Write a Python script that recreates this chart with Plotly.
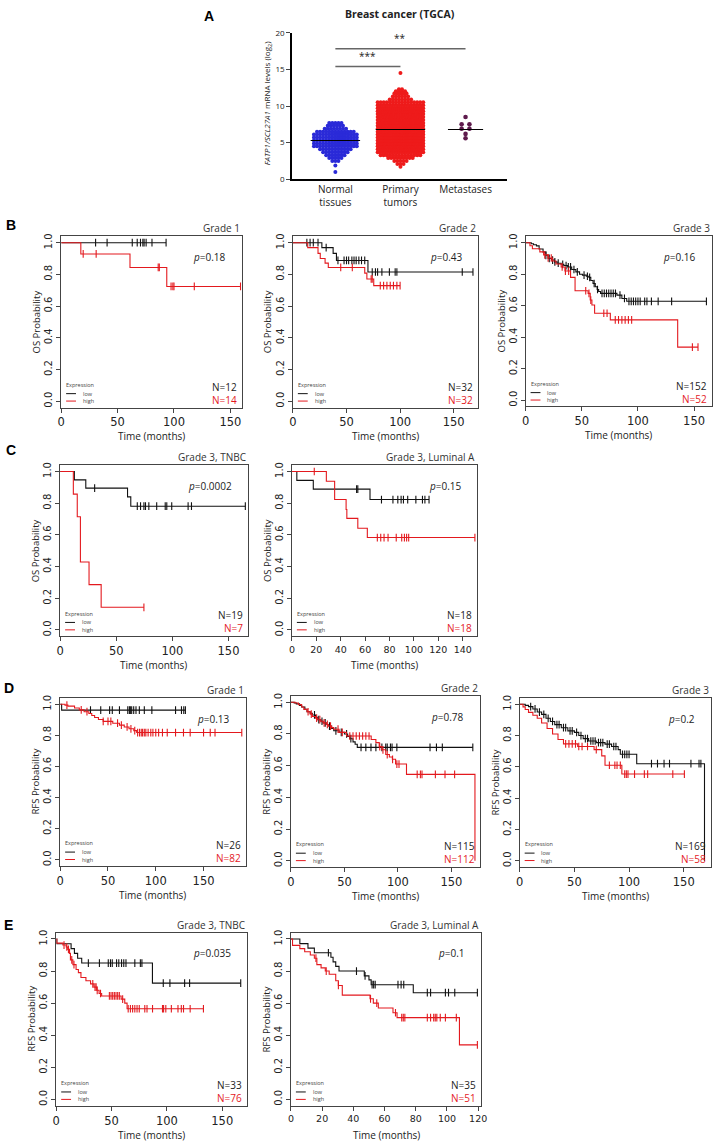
import numpy as np
import plotly.graph_objects as go

W, H = 721, 1147

# ---------------- panel A : FATP1 expression ----------------
groups = ["Normal<br>tissues", "Primary<br>tumors", "Metastases"]
normal_levels = [1.0, 1.9, 2.5, 2.9, 3.3, 3.7, 4.1, 4.5, 4.9, 5.3, 5.7, 6.1, 6.5, 6.9, 7.3, 7.7]
normal_counts = [1, 1, 3, 5, 7, 9, 11, 15, 15, 15, 15, 15, 13, 8, 6, 5]
tumor_levels = [1.7, 2.1, 2.5, 2.9, 3.3, 3.7, 4.1, 4.5, 4.9, 5.3, 5.7, 6.1, 6.5, 6.9, 7.3, 7.7,
                8.1, 8.5, 8.9, 9.3, 9.7, 10.1, 10.5, 10.9, 11.3, 11.7, 12.0, 12.3, 14.5]
tumor_counts = [1, 3, 5, 9, 14, 20, 26, 30, 32, 34, 34, 34, 34, 34, 34, 33,
                32, 30, 28, 26, 24, 20, 16, 8, 6, 5, 4, 2, 1]
meta_levels = [5.6, 6.2, 6.9, 7.5, 8.5]
meta_counts = [1, 1, 2, 2, 1]
group_medians = [5.3, 6.8, 6.8]
sig_from = [0, 0]
sig_to = [1, 2]
sig_heights = [15.4, 17.8]
sig_labels = ["***", "**"]

# ---------------- Kaplan-Meier panels ----------------
panel_titles = ["Grade 1", "Grade 2", "Grade 3", "Grade 3, TNBC", "Grade 3, Luminal A",
                "Grade 1", "Grade 2", "Grade 3", "Grade 3, TNBC", "Grade 3, Luminal A"]
y_titles = ["OS Probability"] * 5 + ["RFS Probability"] * 5
p_values = ["0.18", "0.43", "0.16", "0.0002", "0.15", "0.13", "0.78", "0.2", "0.035", "0.1"]
n_low = [12, 32, 152, 19, 18, 26, 115, 169, 33, 35]
n_high = [14, 32, 52, 7, 18, 82, 112, 58, 76, 51]

# event times (months), survival after event, censor times
b1_low_t = []
b1_low_s = []
b1_low_c = [30.5, 40.7, 63, 67.4, 70.3, 72.4, 73.5, 75.3, 80.5, 93]
b1_high_t = [17.4, 61, 93.6]
b1_high_s = [0.929, 0.844, 0.724]
b1_high_c = [19.5, 31, 86, 87, 97.4, 99, 100, 118, 159]

b2_low_t = [27, 37.5, 40.6, 70]
b2_low_s = [0.969, 0.933, 0.888, 0.815]
b2_low_c = [13, 16, 19, 23.4, 31, 42, 47.7, 50, 52, 55, 57, 59, 61.5, 64, 67, 74, 77, 79, 83, 90, 95.4, 97, 158, 168]
b2_high_t = [13.8, 23.4, 25.5, 30, 33, 67, 69, 75.4]
b2_high_s = [0.969, 0.933, 0.90, 0.871, 0.844, 0.808, 0.771, 0.729]
b2_high_c = [44.6, 55.4, 73, 74, 81.5, 84.6, 87.7, 90.8, 93.8, 97, 100]

b3_low_t = [5, 7, 9.6, 12, 15.5, 18, 20, 23, 25.7, 28, 31.6, 34, 37.4, 41, 44.7, 48, 50.6, 54, 56.4,
            58, 60, 62, 63.7, 65, 66.7, 81.3, 85.7, 90]
b3_low_s = [0.993, 0.987, 0.98, 0.96, 0.94, 0.92, 0.90, 0.89, 0.878, 0.87, 0.863, 0.855, 0.846, 0.83,
            0.815, 0.80, 0.794, 0.787, 0.78, 0.76, 0.741, 0.72, 0.703, 0.69, 0.678, 0.667, 0.646, 0.628]
b3_low_c = [18, 21, 24, 26, 29, 33, 36, 38, 40, 43, 46, 52, 55, 57, 61, 64, 68, 70, 72, 74, 76, 78, 80,
            84, 88, 92, 94, 96, 98, 100, 102, 106, 108, 112, 118, 130, 161]
b3_high_t = [3.8, 6, 12.6, 16, 20, 24, 27, 31.6, 35, 40, 44, 55.6, 57.5, 59, 61.4, 75.4, 135.4]
b3_high_s = [0.981, 0.962, 0.942, 0.923, 0.903, 0.884, 0.865, 0.846, 0.82, 0.78, 0.695, 0.678, 0.636,
             0.604, 0.552, 0.51, 0.337]
b3_high_c = [17, 20, 22.8, 32.5, 35.4, 38.3, 53.5, 56.4, 58, 69.6, 72.5, 79.8, 82.7, 85.7, 88.6, 91.5,
             94.4, 148.5, 153.5]

c1_low_t = [12.6, 22.8, 60, 62.9]
c1_low_s = [0.947, 0.895, 0.84, 0.781]
c1_low_c = [30.7, 68.7, 71.6, 74.6, 76, 79, 86, 93.6, 95, 99.4, 114, 117, 165]
c1_high_t = [11.7, 15.2, 18, 25.7, 36.5]
c1_high_s = [0.857, 0.714, 0.429, 0.286, 0.143]
c1_high_c = [74.6]

c2_low_t = [4, 17.5, 64]
c2_low_s = [0.944, 0.889, 0.823]
c2_low_c = [53, 54, 73.4, 82.8, 86.8, 89.5, 91.4, 94.9, 101.6, 107, 109, 112.4]
c2_high_t = [28.2, 35, 44.4, 45, 54, 61.8]
c2_high_s = [0.938, 0.823, 0.76, 0.704, 0.642, 0.583]
c2_high_c = [18.3, 70, 72.8, 75.5, 78.8, 85.5, 90, 92.2, 94, 95.7, 150]

d1_low_t = [1.5]
d1_low_s = [0.962]
d1_low_c = [31.7, 42.4, 51.7, 54.5, 62, 70.7, 72.4, 73.4, 74.8, 76.9, 79.3, 82.8, 88, 95.9, 120.7,
            126.9, 129.3, 131]
d1_high_t = [5, 8, 15, 20, 25, 30, 33, 36, 40, 45, 55, 62, 67, 72, 77, 80]
d1_high_s = [0.994, 0.988, 0.976, 0.964, 0.952, 0.94, 0.928, 0.915, 0.902, 0.89, 0.878, 0.866, 0.854,
             0.842, 0.83, 0.818]
d1_high_c = [7, 22, 28, 45, 50, 53, 60, 64, 70, 74, 78, 81, 83, 84.8, 86.2, 88, 89.6, 92, 94.8, 97, 100,
             103, 107, 112, 120.7, 129, 136, 150, 157, 162, 190]

d2_low_t = [3, 5, 8, 10, 13, 15, 18, 20, 23, 25, 28, 30, 33, 35, 38, 40, 45, 50, 53, 55, 58, 60, 62]
d2_low_s = [0.995, 0.99, 0.98, 0.97, 0.955, 0.94, 0.93, 0.92, 0.905, 0.89, 0.88, 0.87, 0.86, 0.85,
            0.835, 0.82, 0.81, 0.80, 0.785, 0.77, 0.75, 0.735, 0.715]
d2_low_c = [22, 26, 29, 32, 36, 42, 47, 52, 56, 65.5, 70, 74.8, 79.4, 85, 88.6, 90, 93, 94.5, 99, 130,
            136, 141.5, 170]
d2_high_t = [4, 7, 10, 12, 15, 18, 20, 23, 25, 28, 30, 33, 35, 38, 40, 45, 52, 75, 79.4, 82.5, 85, 88.6,
             92, 94.8, 97.8, 108, 172]
d2_high_s = [0.995, 0.985, 0.97, 0.955, 0.94, 0.925, 0.91, 0.9, 0.89, 0.88, 0.87, 0.86, 0.85, 0.84,
             0.83, 0.81, 0.787, 0.765, 0.745, 0.72, 0.70, 0.67, 0.655, 0.64, 0.61, 0.545, 0.0]
d2_high_c = [16, 19, 24, 27, 31, 34, 37, 44, 48, 55, 58, 61, 64, 67, 70, 73, 83, 86, 90, 95, 99, 101,
             118, 121, 122.5, 135, 144, 153]

d3_low_t = [5, 8, 12, 16, 20, 24, 28, 32, 38, 44, 50, 54, 58, 63, 70, 78, 84, 90, 92, 107, 169]
d3_low_s = [0.993, 0.985, 0.97, 0.95, 0.935, 0.91, 0.89, 0.87, 0.85, 0.83, 0.82, 0.80, 0.78, 0.765,
            0.755, 0.745, 0.73, 0.71, 0.68, 0.62, 0.0]
d3_low_c = [10, 14, 18, 22, 26, 30, 34, 36, 40, 42, 46, 48, 52, 56, 60, 62, 65, 67, 69, 72, 74, 76, 80,
            82, 86, 88, 94, 96, 98, 100, 120.5, 126, 132, 137, 156.6, 164, 165.7]
d3_high_t = [3, 5, 8, 12, 16, 20, 25, 30, 35, 40, 53, 68, 75, 78, 93.4]
d3_high_s = [0.983, 0.966, 0.948, 0.93, 0.91, 0.88, 0.845, 0.81, 0.775, 0.747, 0.73, 0.71, 0.67, 0.61,
             0.554]
d3_high_c = [42, 45, 48, 51, 54, 57, 62, 70, 82, 87, 89, 92, 96, 97.5, 99, 105, 114, 117, 140, 150.6]

e1_low_t = [0.5, 13.4, 16.4, 19.3, 23, 86.9]
e1_low_s = [0.97, 0.94, 0.91, 0.88, 0.85, 0.725]
e1_low_c = [29, 39, 47, 49, 50.6, 54.5, 56.5, 59, 61, 63, 71, 76, 77.4, 96.7, 102.7, 116, 120.5, 166.7]
e1_high_t = [0.5, 6, 9, 10.4, 12, 12.8, 15, 17.9, 20, 22.3, 26.8, 31, 34, 36.6, 38.7, 41, 58.6, 61.9, 64]
e1_high_s = [0.974, 0.962, 0.95, 0.935, 0.91, 0.87, 0.84, 0.81, 0.79, 0.76, 0.74, 0.72, 0.70, 0.68,
             0.66, 0.645, 0.625, 0.60, 0.565]
e1_high_c = [7, 9.5, 11, 14, 16, 33, 35, 36, 37, 40, 48, 49.5, 51, 52.5, 54, 55.5, 57, 60, 65, 67, 69,
             71, 73, 75, 80, 82, 87, 96, 97, 99, 104, 110, 113, 115, 121, 133]

e2_low_t = [5.7, 10.9, 15, 25.6, 27, 28.7, 30.8, 47, 50, 51.4, 78.4]
e2_low_s = [0.971, 0.943, 0.914, 0.886, 0.857, 0.829, 0.80, 0.77, 0.745, 0.715, 0.665]
e2_low_c = [24, 42, 47.5, 52, 53, 54, 68.6, 70.6, 72.3, 87.4, 89.5, 99, 101, 105, 119.5]
e2_high_t = [1, 5.7, 8.8, 12.4, 15, 16.6, 19.3, 22, 24.5, 28.7, 30.4, 32.9, 50.7, 52.8, 56, 65.4, 68, 108]
e2_high_s = [0.96, 0.94, 0.92, 0.90, 0.88, 0.84, 0.82, 0.80, 0.78, 0.74, 0.71, 0.65, 0.627, 0.60, 0.57,
             0.54, 0.51, 0.34]
e2_high_c = [16, 22.6, 30.4, 51, 55, 67, 71, 72, 73, 87.4, 89.5, 91.5, 92.5, 93.5, 95.7, 99, 106, 119.5]

km_low = [(b1_low_t, b1_low_s, b1_low_c), (b2_low_t, b2_low_s, b2_low_c), (b3_low_t, b3_low_s, b3_low_c),
          (c1_low_t, c1_low_s, c1_low_c), (c2_low_t, c2_low_s, c2_low_c),
          (d1_low_t, d1_low_s, d1_low_c), (d2_low_t, d2_low_s, d2_low_c), (d3_low_t, d3_low_s, d3_low_c),
          (e1_low_t, e1_low_s, e1_low_c), (e2_low_t, e2_low_s, e2_low_c)]
km_high = [(b1_high_t, b1_high_s, b1_high_c), (b2_high_t, b2_high_s, b2_high_c), (b3_high_t, b3_high_s, b3_high_c),
           (c1_high_t, c1_high_s, c1_high_c), (c2_high_t, c2_high_s, c2_high_c),
           (d1_high_t, d1_high_s, d1_high_c), (d2_high_t, d2_high_s, d2_high_c), (d3_high_t, d3_high_s, d3_high_c),
           (e1_high_t, e1_high_s, e1_high_c), (e2_high_t, e2_high_s, e2_high_c)]

# frame geometry in pixels: left, right, y of 1.0, y of 0.0, x max, x dtick, tick font size
frames = [(58, 241, 239, 399, 160, 50, 11.5), (293, 481, 239, 399, 173, 50, 11.5),
          (529, 718, 239, 398, 166, 50, 11.5),
          (57, 247, 470, 630, 167, 50, 11.5), (292, 480, 470, 630, 152, 20, 9.5),
          (57, 245, 705, 862, 194, 50, 11.5), (291, 483, 703, 863, 177, 50, 11.5),
          (523, 717, 705, 863, 175, 50, 11.5),
          (53, 246, 942, 1104, 172, 50, 11.5), (291, 484, 942, 1104, 122, 20, 9.5)]

RED = "#e3191e"
BLACK = "#111111"
TXT = "#222222"
SANS = "Open Sans"


def px(x):
    return x / W


def py(y):
    return 1 - y / H


def swarm(levels, counts, centre, step, half_max):
    xs, ys = [], []
    for v, n in zip(levels, counts):
        half = min((n - 1) * step / 2, half_max)
        offs = np.linspace(-half, half, n) if n > 1 else np.array([0.0])
        xs += list(centre + offs)
        ys += [v] * n
    return xs, ys


def km_xy(t, s, c):
    end = max([0] + list(t) + list(c))
    x = [0] + list(t) + [end]
    y = [1.0] + list(s) + [s[-1] if len(s) else 1.0]
    return x, y


def surv_at(t, s, tc):
    idx = np.searchsorted(np.asarray(t, dtype=float), tc, side="right")
    return [1.0 if i == 0 else s[i - 1] for i in idx]


fig = go.Figure()
annotations = []
shapes = []


def note(x, y, text, size=10, color=TXT, xanchor="center", angle=0, family=SANS):
    annotations.append(dict(x=px(x), y=py(y), xref="paper", yref="paper", text=text, showarrow=False,
                            xanchor=xanchor, yanchor="middle", textangle=angle,
                            font=dict(family=family, size=size, color=color)))


# ---- panel A ----
colors_a = ["#2a2ad8", "#ee1b1b", "#5e1a4c"]
xs, ys = swarm(normal_levels, normal_counts, 0, 0.047, 0.33)
fig.add_trace(go.Scatter(x=xs, y=ys, mode="markers", marker=dict(size=4, color=colors_a[0]),
                         xaxis="x", yaxis="y", showlegend=False))
xs, ys = swarm(tumor_levels, tumor_counts, 1, 0.047, 0.35)
fig.add_trace(go.Scatter(x=xs, y=ys, mode="markers", marker=dict(size=4, color=colors_a[1]),
                         xaxis="x", yaxis="y", showlegend=False))
xs, ys = swarm(meta_levels, meta_counts, 2, 0.12, 0.2)
fig.add_trace(go.Scatter(x=xs, y=ys, mode="markers", marker=dict(size=4.6, color=colors_a[2]),
                         xaxis="x", yaxis="y", showlegend=False))
half_w = [0.38, 0.38, 0.27]
for i, m in enumerate(group_medians):
    fig.add_trace(go.Scatter(x=[i - half_w[i], i + half_w[i]], y=[m, m], mode="lines",
                             line=dict(color="black", width=1.2), xaxis="x", yaxis="y",
                             showlegend=False))
for a, b, h, lab in zip(sig_from, sig_to, sig_heights, sig_labels):
    fig.add_trace(go.Scatter(x=[a, b], y=[h, h], mode="lines", line=dict(color="#666", width=1.5),
                             xaxis="x", yaxis="y", showlegend=False))
    annotations.append(dict(x=(a + b) / 2, y=h + 0.25, xref="x", yref="y", text=lab, showarrow=False,
                            yanchor="bottom", font=dict(family=SANS, size=10, color=TXT)))

layout_axes = dict(
    xaxis=dict(domain=[px(292), px(510)], range=[-0.667, 2.636], tickvals=[0, 1, 2], ticktext=groups,
               showline=True, linecolor="black", linewidth=1.5, ticks="", showgrid=False,
               zeroline=False, tickfont=dict(family=SANS, size=10, color=TXT), anchor="y"),
    yaxis=dict(domain=[py(175), py(27)], range=[0, 20], tickvals=[0, 5, 10, 15, 20], showline=True,
               linecolor="black", linewidth=1.5, ticks="outside", ticklen=4, showgrid=False,
               zeroline=False, tickfont=dict(family=SANS, size=8, color=TXT), anchor="x"),
)
note(267, 98, "<i>FATP1/SCL27A1</i> mRNA levels (log<sub>2</sub>)", size=8, angle=-90)
note(402, 8, "<b>Breast cancer (TGCA)</b>", size=10.5)

# panel letters
for lab, lx, ly in [("A", 208, 10), ("B", 7, 221), ("C", 7, 448), ("D", 5, 689), ("E", 5, 928)]:
    note(lx, ly, "<b>%s</b>" % lab, size=14, color="black", family="Liberation Sans")

# ---- KM panels ----
for k in range(10):
    l, r, y1, y0, xmax, dt, tfs = frames[k]
    top = y1 - 0.04 * (y0 - y1)
    bot = y0 + 0.04 * (y0 - y1)
    ax = k + 2
    xn, yn = "x%d" % ax, "y%d" % ax
    for (t, s, c), col in [(km_low[k], BLACK), (km_high[k], RED)]:
        x, y = km_xy(t, s, c)
        fig.add_trace(go.Scatter(x=x, y=y, mode="lines", line=dict(color=col, width=1.1, shape="hv"),
                                 xaxis=xn, yaxis=yn, showlegend=False))
        fig.add_trace(go.Scatter(x=c, y=surv_at(t, s, c), mode="markers",
                                 marker=dict(symbol="line-ns", size=5.5, line=dict(color=col, width=1.1)),
                                 xaxis=xn, yaxis=yn, showlegend=False))
    layout_axes["xaxis%d" % ax] = dict(
        domain=[px(l), px(r)], range=[0, xmax], tick0=0, dtick=dt, showline=True, mirror=True,
        linecolor="#444", linewidth=1, ticks="outside", ticklen=4, tickcolor="#444", showgrid=False,
        zeroline=False, tickfont=dict(family="DejaVu Sans", size=tfs, color=TXT), anchor=yn)
    layout_axes["yaxis%d" % ax] = dict(
        domain=[py(bot), py(top)], range=[-0.04, 1.04], tick0=0, dtick=0.2, tickformat=".1f",
        tickangle=-90, showline=True, mirror=True, linecolor="#444", linewidth=1, ticks="outside",
        ticklen=4, tickcolor="#444", showgrid=False, zeroline=False,
        tickfont=dict(family="DejaVu Sans", size=10, color=TXT), anchor=xn)

    note(r, top - 8, panel_titles[k], xanchor="right", color="#333")
    note(r - 14, top + 21, "<i>p</i>=%s" % p_values[k], xanchor="right")
    note(r - 3, bot - 21, "N=%d" % n_low[k], xanchor="right")
    note(r - 3, bot - 8, "N=%d" % n_high[k], xanchor="right", color=RED)
    note(l + 3, bot - 23, "Expression", size=5.5, xanchor="left", color="#444")
    note(l + 20, bot - 14, "low", size=5.5, xanchor="left", color="#444")
    note(l + 20, bot - 6.5, "high", size=5.5, xanchor="left", color="#444")
    for yy, col in [(bot - 14, BLACK), (bot - 6.5, RED)]:
        shapes.append(dict(type="line", xref="paper", yref="paper", x0=px(l + 5), x1=px(l + 15),
                           y0=py(yy), y1=py(yy), line=dict(color=col, width=1)))
    note(l - 25, (top + bot) / 2, y_titles[k], size=9.5, angle=-90)
    note((l + r) / 2, bot + 29, "Time (months)", size=10)

fig.update_layout(width=W, height=H, margin=dict(l=0, r=0, t=0, b=0), paper_bgcolor="white",
                  plot_bgcolor="white", annotations=annotations, shapes=shapes, **layout_axes)

fig.write_html("out.html", config={"displayModeBar": False},
               post_script="document.body.style.margin='0';")
